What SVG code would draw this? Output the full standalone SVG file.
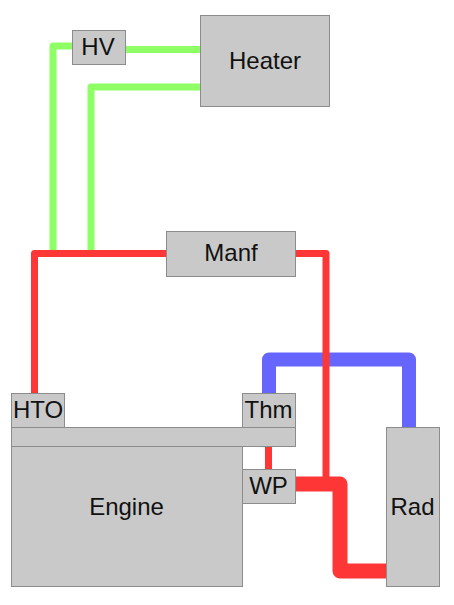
<svg xmlns="http://www.w3.org/2000/svg" width="454" height="605" viewBox="0 0 454 605">
<style>
.n{fill:#c9c9c9;stroke:#8c8c8c;stroke-width:1}
.t{font-family:"Liberation Sans",Arial,sans-serif;font-size:24px;fill:#111;text-anchor:middle}
.p{fill:none;stroke-linejoin:round}
.g{stroke:#8fff66;stroke-width:7}
.r{stroke:#ff3636;stroke-width:7}
.R{stroke:#ff3636;stroke-width:15}
.b{stroke:#6666ff;stroke-width:14}
</style>
<rect width="454" height="605" fill="#fff"/>
<g id="connectors">
<path class="p g" d="M73 46H53V251"/>
<path class="p g" d="M125 49.500H201"/>
<path class="p g" d="M201 87H91V251"/>
<path class="p b" d="M269 394V359.500H409V428"/>
<path class="p r" d="M167 253.500H34.500V394"/>
<path class="p r" d="M295 253.500H326V484"/>
<path class="p r" d="M268.500 446V469"/>
<path class="p R" d="M295 484H340V571H387"/>
</g>
<g id="engine"><rect class="n" x="11.500" y="446.500" width="231" height="140"/><text class="t" x="126.500" y="515">Engine</text></g>
<g id="head"><rect class="n" x="11.500" y="427.500" width="284" height="19"/></g>
<g id="heater"><rect class="n" x="200.500" y="15.500" width="129" height="91"/><text class="t" x="265" y="69">Heater</text></g>
<g id="hv"><rect class="n" x="72.500" y="30.500" width="53" height="34"/><text class="t" x="98" y="55">HV</text></g>
<g id="manf"><rect class="n" x="166.500" y="231.500" width="129" height="45"/><text class="t" x="231" y="261">Manf</text></g>
<g id="hto"><rect class="n" x="11.500" y="393.500" width="53" height="34"/><text class="t" x="38" y="418">HTO</text></g>
<g id="thm"><rect class="n" x="242.500" y="393.500" width="53" height="34"/><text class="t" x="268.500" y="418">Thm</text></g>
<g id="wp"><rect class="n" x="242.500" y="469.500" width="53" height="34"/><text class="t" x="268.500" y="494">WP</text></g>
<g id="rad"><rect class="n" x="386.500" y="427.500" width="53" height="159"/><text class="t" x="412.500" y="515">Rad</text></g>
</svg>
